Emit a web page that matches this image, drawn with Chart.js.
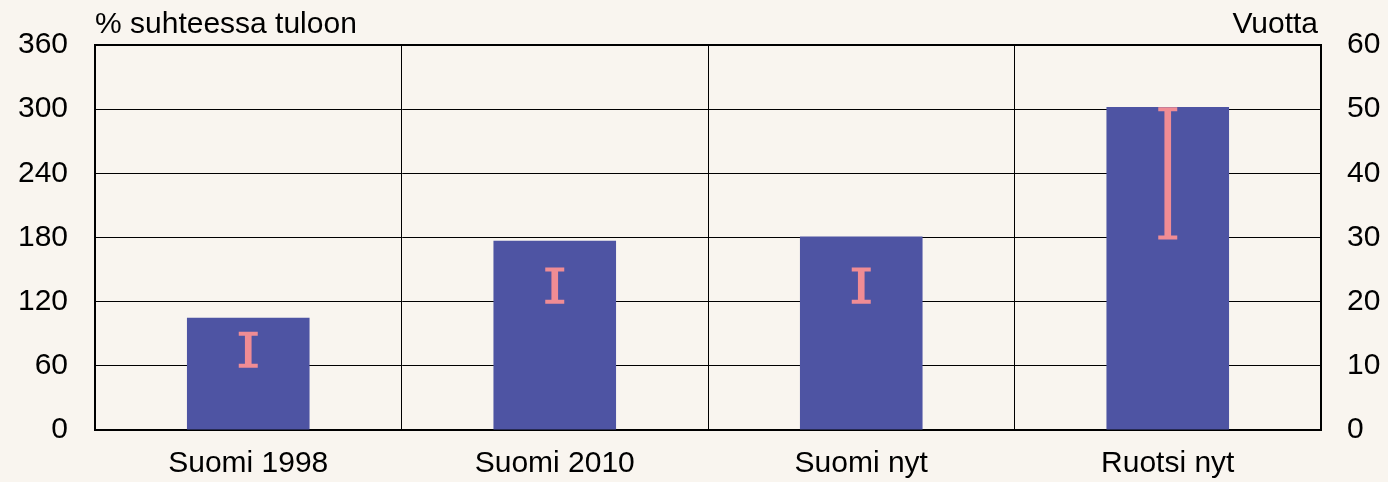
<!DOCTYPE html>
<html>
<head>
<meta charset="utf-8">
<script src="https://cdn.jsdelivr.net/npm/chart.js@4"></script>
<style>
  html, body { margin: 0; padding: 0; background: #f9f5ef; }
  #wrap { width: 1388px; height: 482px; position: relative; }
</style>
</head>
<body>
<div id="wrap"><canvas id="bar-chart"></canvas></div>
<script>
// kategoriat ja arvot
var categories = ["Suomi 1998", "Suomi 2010", "Suomi nyt", "Ruotsi nyt"];
var debtPct = [105, 177, 181, 302];      // % suhteessa tuloon (vasen akseli)
var yearsLow = [10, 20, 20, 30];          // Vuotta (oikea akseli)
var yearsHigh = [15, 25, 25, 50];
var leftTitle = "% suhteessa tuloon";
var rightTitle = "Vuotta";

var barColor = "#4e54a3";
var rangeColor = "#f08c94";
var fontFamily = "'Liberation Sans', Arial, sans-serif";
var fontSize = 30;

// yläotsikot piirretään kuva-alueen reunoihin
var titlePlugin = {
    id: "axisTitles",
    afterDraw: function (chart) {
        var ctx = chart.ctx;
        var area = chart.chartArea;
        ctx.save();
        ctx.fillStyle = "#000";
        ctx.font = fontSize + "px " + fontFamily;
        ctx.textBaseline = "alphabetic";
        ctx.textAlign = "left";
        ctx.fillText(leftTitle, area.left, 33);
        ctx.textAlign = "right";
        ctx.fillText(rightTitle, area.right - 3, 33);
        ctx.restore();
    }
};

var bgPlugin = {
    id: "bg",
    beforeDraw: function (chart) {
        var ctx = chart.ctx;
        ctx.save();
        ctx.fillStyle = "#f9f5ef";
        ctx.fillRect(0, 0, chart.width, chart.height);
        ctx.restore();
    }
};

var rangeData = yearsLow.map(function (v, i) { return [v, yearsHigh[i]]; });

new Chart(document.getElementById("bar-chart"), {
    type: "bar",
    data: {
        labels: categories,
        datasets: [
            {
                data: debtPct,
                backgroundColor: barColor,
                yAxisID: "y",
                grouped: false,
                barPercentage: 0.4,
                categoryPercentage: 1,
                order: 10
            },
            {
                data: rangeData,
                backgroundColor: rangeColor,
                yAxisID: "y2",
                grouped: false,
                barThickness: 6,
                order: 2
            },
            {
                type: "line",
                data: yearsHigh,
                yAxisID: "y2",
                showLine: false,
                pointStyle: "line",
                pointRadius: 9.5,
                pointBorderWidth: 4,
                pointBorderColor: rangeColor,
                order: 1
            },
            {
                type: "line",
                data: yearsLow,
                yAxisID: "y2",
                showLine: false,
                pointStyle: "line",
                pointRadius: 9.5,
                pointBorderWidth: 4,
                pointBorderColor: rangeColor,
                order: 1
            }
        ]
    },
    options: {
        responsive: true,
        maintainAspectRatio: false,
        animation: false,
        layout: { padding: { top: 43 } },
        plugins: {
            legend: { display: false },
            tooltip: { enabled: false }
        },
        scales: {
            x: {
                grid: { color: "#000", lineWidth: 1, drawTicks: false, offset: true },
                border: { color: "#000", width: 2 },
                ticks: {
                    color: "#000",
                    padding: 16,
                    font: { family: fontFamily, size: fontSize }
                },
                afterFit: function (scale) { scale.height = 52; }
            },
            y: {
                position: "left",
                min: 0,
                max: 360,
                grid: {
                    color: "#000",
                    drawTicks: false,
                    lineWidth: function (c) { return c.tick && c.tick.value === 360 ? 2 : 1; }
                },
                border: { color: "#000", width: 2 },
                ticks: {
                    stepSize: 60,
                    color: "#000",
                    padding: 27,
                    font: { family: fontFamily, size: fontSize }
                },
                afterFit: function (scale) { scale.width = 95; }
            },
            y2: {
                position: "right",
                min: 0,
                max: 60,
                grid: { drawOnChartArea: false, drawTicks: false },
                border: { color: "#000", width: 2 },
                ticks: {
                    stepSize: 10,
                    color: "#000",
                    padding: 26,
                    font: { family: fontFamily, size: fontSize }
                },
                afterFit: function (scale) { scale.width = 67; }
            }
        }
    },
    plugins: [bgPlugin, titlePlugin]
});
</script>
</body>
</html>
